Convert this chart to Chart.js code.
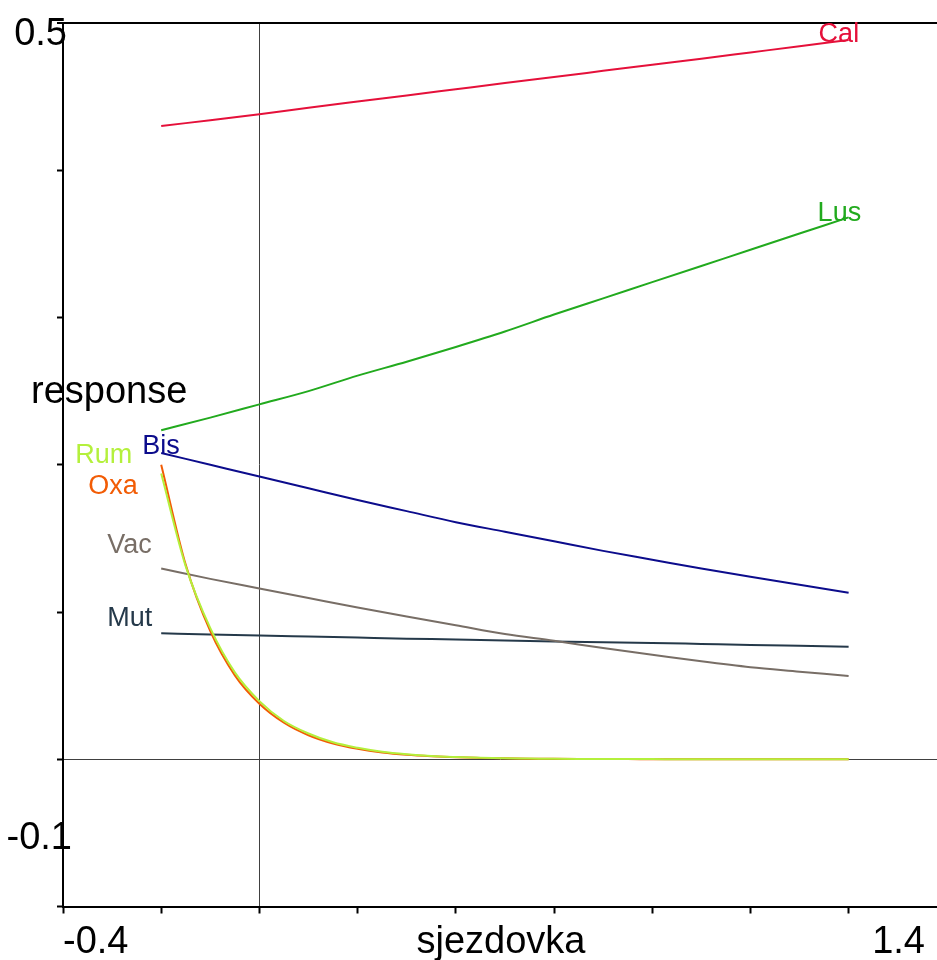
<!DOCTYPE html>
<html>
<head>
<meta charset="utf-8">
<script src="https://cdn.jsdelivr.net/npm/chart.js@4"></script>
<style>
  html, body { margin: 0; padding: 0; background: #fff; }
  canvas { display: block; }
</style>
</head>
<body>
<canvas id="responseChart" width="937" height="960"></canvas>
<script>
// x positions (sjezdovka) the curves were sampled at
const xCoarse = [-0.2, -0.1, 0, 0.1, 0.2, 0.3, 0.4, 0.5, 0.6, 0.7, 0.8, 0.9, 1.0, 1.1, 1.2];
const xFine = [-0.2, -0.15, -0.1, -0.05, 0, 0.05, 0.1, 0.15, 0.2, 0.25, 0.3, 0.35, 0.4, 0.45,
  0.5, 0.55, 0.6, 0.65, 0.7, 0.75, 0.8, 0.85, 0.9, 0.95, 1.0, 1.05, 1.1, 1.15, 1.2];

// species responses
const calValues = [0.430, 0.434, 0.438, 0.4425, 0.4467, 0.4508, 0.455, 0.4592, 0.4633, 0.4675, 0.4717, 0.4758, 0.480, 0.4842, 0.4885];
const lusValues = [0.2234, 0.232, 0.241, 0.250, 0.2605, 0.270, 0.280, 0.2905, 0.302, 0.313, 0.324, 0.335, 0.346, 0.357, 0.368];
const bisValues = [0.208, 0.200, 0.192, 0.184, 0.176, 0.1685, 0.161, 0.1545, 0.148, 0.1415, 0.1355, 0.1295, 0.124, 0.1185, 0.113];
const vacValues = [0.1295, 0.1225, 0.116, 0.1095, 0.103, 0.097, 0.091, 0.085, 0.0805, 0.0755, 0.071, 0.0665, 0.0625, 0.0595, 0.0565];
const mutValues = [0.0855, 0.0848, 0.084, 0.0833, 0.0826, 0.0819, 0.0813, 0.0806, 0.080, 0.0795, 0.079, 0.0783, 0.0776, 0.077, 0.0764];
const rumValues = [0.194, 0.131, 0.089, 0.059, 0.0395, 0.026, 0.0175, 0.0115, 0.0078, 0.0051, 0.0034, 0.0022, 0.0015, 0.001,
  0.0007, 0.0005, 0.0003, 0.0002, 0.0002, 0.0001, 0.0001, 0, 0, 0, 0, 0, 0, 0, 0];
const oxaValues = [0.200, 0.132, 0.087, 0.057, 0.0377, 0.0248, 0.0163, 0.0107, 0.0071, 0.0046, 0.003, 0.002, 0.0013, 0.0009,
  0.0006, 0.0004, 0.0003, 0.0002, 0.0001, 0.0001, 0, 0, 0, 0, 0, 0, 0, 0, 0];

// axis texts
const xTickLabels = ["-0.4", "1.4"];
const yTickLabels = ["0.5", "-0.1"];
const xTitle = "sjezdovka";
const yTitle = "response";

const FONT = '"Liberation Sans", Arial, Helvetica, sans-serif';

function points(xs, ys) {
  return xs.map((x, i) => ({ x: x, y: ys[i] }));
}

// label placement relative to the first/last point of each curve (pixels)
// first entry is drawn on top
const species = [
  { name: "Cal", xs: xCoarse, ys: calValues, color: "#e5103a", at: "end", dx: -30, dy: 2 },
  { name: "Lus", xs: xCoarse, ys: lusValues, color: "#22aa1e", at: "end", dx: -31, dy: 4 },
  { name: "Bis", xs: xCoarse, ys: bisValues, color: "#0c0c8c", at: "start", dx: -19, dy: 1 },
  { name: "Rum", xs: xFine, ys: rumValues, color: "#b4f03c", at: "start", dx: -86, dy: -11 },
  { name: "Oxa", xs: xFine, ys: oxaValues, color: "#f25c05", at: "start", dx: -73, dy: 29 },
  { name: "Vac", xs: xCoarse, ys: vacValues, color: "#786e66", at: "start", dx: -54, dy: -16 },
  { name: "Mut", xs: xCoarse, ys: mutValues, color: "#25394a", at: "start", dx: -54, dy: -7 },
];

const labelPlugin = {
  id: "labels",
  afterDatasetsDraw(chart) {
    const ctx = chart.ctx;
    const xs = chart.scales.x, ys = chart.scales.y;
    ctx.save();
    ctx.font = "27px " + FONT;
    ctx.textAlign = "left";
    ctx.textBaseline = "alphabetic";
    species.forEach((s) => {
      const i = s.at === "end" ? s.xs.length - 1 : 0;
      const px = xs.getPixelForValue(s.xs[i]);
      const py = ys.getPixelForValue(s.ys[i]);
      ctx.fillStyle = s.color;
      ctx.fillText(s.name, px + s.dx, py + s.dy);
    });
    ctx.restore();
  },
  afterDraw(chart) {
    const ctx = chart.ctx;
    const area = chart.chartArea;
    const xs = chart.scales.x, ys = chart.scales.y;
    ctx.save();
    ctx.font = "38px " + FONT;
    ctx.fillStyle = "#000";
    ctx.textBaseline = "alphabetic";
    // y end labels
    ctx.textAlign = "right";
    ctx.fillText(yTickLabels[0], area.left + 4, ys.getPixelForValue(0.5) + 22);
    ctx.fillText(yTickLabels[1], area.left + 9, ys.getPixelForValue(-0.1) - 58);
    // x end labels
    ctx.textAlign = "left";
    ctx.fillText(xTickLabels[0], xs.getPixelForValue(-0.4), 953);
    ctx.textAlign = "right";
    ctx.fillText(xTickLabels[1], area.right - 12, 953);
    // titles
    ctx.textAlign = "center";
    ctx.fillText(xTitle, 501, 953);
    ctx.textAlign = "left";
    ctx.fillText(yTitle, 31, 403);
    ctx.restore();
  },
};

const near = (a, b) => Math.abs(a - b) < 1e-9;

new Chart(document.getElementById("responseChart").getContext("2d"), {
  type: "line",
  data: {
    datasets: species.map((s) => ({
      label: s.name,
      data: points(s.xs, s.ys),
      borderColor: s.color,
      borderWidth: 2,
      pointRadius: 0,
      fill: false,
      cubicInterpolationMode: "monotone",
    })),
  },
  options: {
    responsive: false,
    animation: false,
    layout: { padding: { top: 23, right: 0, left: 0, bottom: 0 } },
    plugins: { legend: { display: false }, tooltip: { enabled: false } },
    scales: {
      x: {
        type: "linear",
        min: -0.4,
        max: 1.38,
        afterBuildTicks: (scale) => {
          scale.ticks = [-0.4, -0.2, 0, 0.2, 0.4, 0.6, 0.8, 1.0, 1.2].map((v) => ({ value: v }));
        },
        afterFit: (scale) => { scale.height = 53.5; },
        ticks: { display: false },
        border: { display: true, color: "#000", width: 2 },
        grid: {
          drawOnChartArea: true,
          drawTicks: true,
          tickLength: 7,
          tickColor: "#000",
          tickWidth: 2,
          color: (c) => (c.tick && near(c.tick.value, 0) ? "#404040" : "rgba(0,0,0,0)"),
          lineWidth: 1,
        },
      },
      y: {
        type: "linear",
        min: -0.1,
        max: 0.5,
        ticks: { display: false, stepSize: 0.1 },
        afterFit: (scale) => { scale.width = 63; },
        border: { display: true, color: "#000", width: 2 },
        grid: {
          drawOnChartArea: true,
          drawTicks: true,
          tickLength: 6,
          tickColor: "#000",
          tickWidth: 2,
          color: (c) => {
            if (!c.tick) return "rgba(0,0,0,0)";
            if (near(c.tick.value, 0)) return "#404040";
            if (near(c.tick.value, 0.5)) return "#000";
            return "rgba(0,0,0,0)";
          },
          lineWidth: (c) => (c.tick && near(c.tick.value, 0.5) ? 2 : 1),
        },
      },
    },
  },
  plugins: [labelPlugin],
});
</script>
</body>
</html>
